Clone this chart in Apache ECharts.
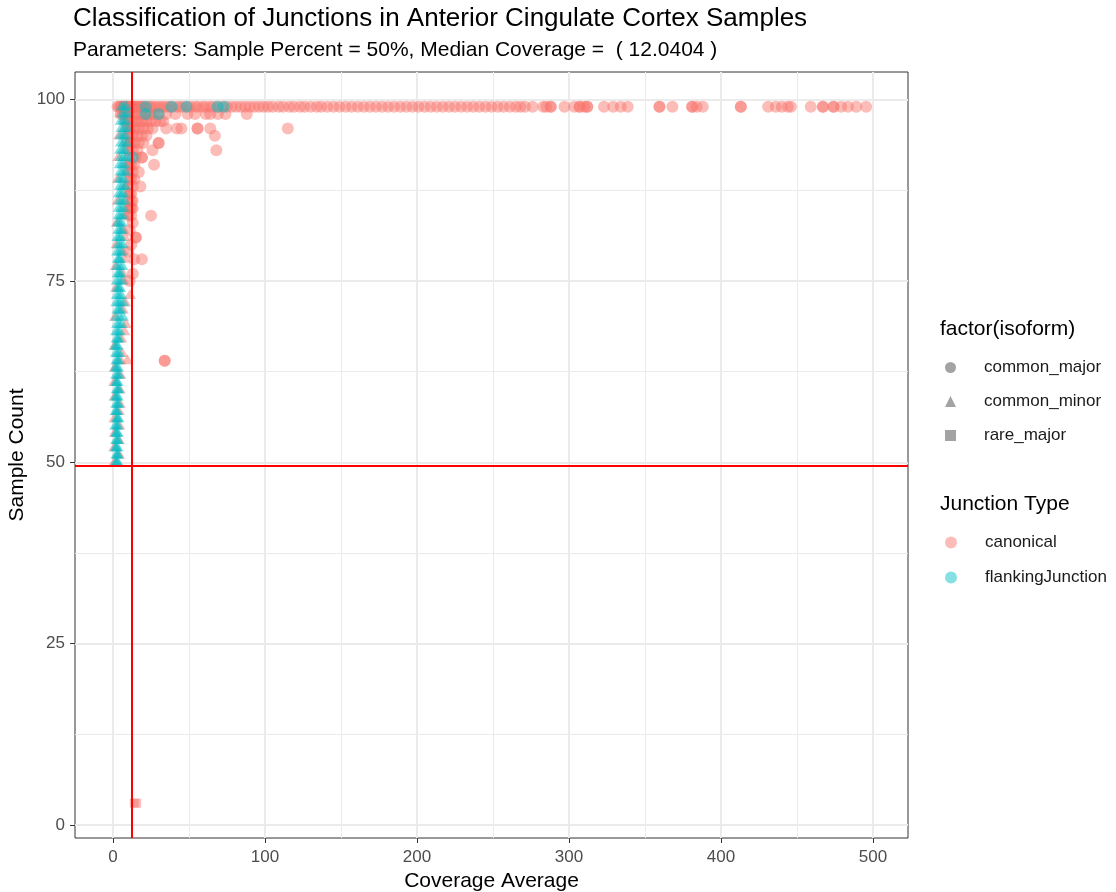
<!DOCTYPE html>
<html><head><meta charset="utf-8">
<script src="https://cdn.jsdelivr.net/npm/echarts@6/dist/echarts.min.js"></script>
<style>html,body{margin:0;padding:0;background:#fff}#chart{width:1116px;height:892px}</style>
</head><body><div id="chart"></div>
<script>
// ---- tick values ----
const xTicks = [0, 100, 200, 300, 400, 500];
const xMinorTicks = [50, 150, 250, 350, 450];
const yTicks = [0, 25, 50, 75, 100];
const yMinorTicks = [12.5, 37.5, 62.5, 87.5];
const medianCoverage = 12.0404;
const sampleThreshold = 49.5;

// ---- data: [coverage average, sample count] ----
const canonicalMajor = [
  [3,99],[4,99],[5,99],[6,99],[7,99],[8,99],[9,99],[10,99],[11,99],[12,99],[13,99],[14,99],[15,99],[16,99],[17,99],[18,99],[19,99],[20,99],
  [22,99],[24,99],[25,99],[27,99],[29,99],[31,99],[33,99],[35,99],[37,99],[39,99],[42,99],[44,99],[46,99],[49,99],[51,99],[54,99],[56,99],
  [59,99],[61,99],[64,99],[66,99],[69,99],[72,99],[75,99],[78,99],[81,99],[84,99],[87,99],[90,99],[93,99],[96,99],[99,99],[102,99],[105,99],
  [109,99],[112,99],[116,99],[119,99],[123,99],[126,99],[130,99],[134,99],[137,99],[141,99],[145,99],[149,99],[153,99],[157,99],[161,99],
  [165,99],[169,99],[173,99],[177,99],[181,99],[185,99],[189,99],[193,99],[197,99],[201,99],[205,99],[209,99],[213,99],[217,99],[221,99],
  [225,99],[229,99],[233,99],[237,99],[241,99],[245,99],[249,99],[253,99],[257,99],[261,99],[265,99],[268,99],
  [271,99],[276,99],[283,99],[285,99],[288,99],[288,99],[297,99],[303.5,99],[307,99],[307,99],[310,99],[312,99],[312,99],[323,99],[329,99],
  [334,99],[338.6,99],[359.5,99],[359.5,99],[368,99],[381,99],[381,99],[384,99],[388,99],[413,99],[413,99],[431,99],[436,99],[440,99],
  [444,99],[446,99],[459,99],[467,99],[467,99],[474,99],[474,99],[479,99],[483.5,99],[489,99],[495.5,99],
  [5,98],[7,98],[9,98],[11,98],[13,98],[15,98],[17,98],[19,98],[21,98],[23,98],[25,98],[27,98],[30,98],[35,98],[41,98],[49,98],[54,98],
  [61,98],[64,98],[69,98],[74,98],[88,98],
  [8,97],[10,97],[12,97],[14,97],[16,97],[18,97],[20,97],[22,97],[25,97],[28,97],[31,97],[33,97],
  [9,96],[11,96],[13,96],[15,96],[17,96],[20,96],[23,96],[26,96],[35,96],[42,96],[45,96],[55.6,96],[55.6,96],[64,96],[115,96],
  [10,95],[11,95],[13,95],[16,95],[19,95],[22,95],[67,95],
  [9,94],[12,94],[14,94],[17,94],[20,94],[30,94],[30,94],
  [10,93],[13,93],[16,93],[26,93],[68,93],
  [11,92],[15,92],[19,92],[19,92],
  [11,91],[12,91],[14,91],[27,91],
  [10,90],[13,90],[17,90],
  [11,89],[12,89],[14,89],
  [10,88],[13,88],[18,88],
  [11,87],[12,87],[10,86],[12,86],[13,86],[11,85],[12,85],[13,85],[10,84],[12,84],[25,84],[13,83],[11,82],
  [15,81],[15,81],[12,80],[10,79],[14,78],[19,78],[13,76],[11,75],
  [34,64],[34,64]
];
const canonicalMinor = [
  [1.0,50],[4.0,51],[0.8,52],[3.8,53],[1.1,54],[4.2,55],[0.9,56],[3.9,57],[4.5,58],[1.0,59],[4.3,60],[0.7,61],[4.8,62],[1.2,63],
  [9.5,64],[5.0,64],[6.0,65],[1.0,66],[5.5,67],[7.5,68],[8.5,69],[1.3,70],[6.5,71],[8.0,72],[11.2,73],[2.0,74],[7.0,75],[6.5,76],
  [1.8,77],[7.5,78],[6.8,79],[2.2,80],[7.8,81],[7.0,82],[2.5,83],[8.2,84],[9.0,85],[3.0,86],[9.5,87],[8.5,88],[3.2,89],[10.0,90],
  [9.0,91],[3.5,92],[10.5,93],[9.8,94],[4.0,95],[11.0,96],[10.0,97],[4.5,98],[9.0,99]
];
const canonicalRare = [[14,3],[15.5,3]];
const flankingMajor = [[21.5,99],[38.6,99],[48.3,99],[68.7,99],[73.1,99],[21.5,98],[30,98],[13,92]];
const flankingMinor = [
  [1.8,50],[2.6,50],[3.0,50],[2.2,51],[2.8,51],[3.4,51],[1.6,52],[2.4,52],[2.9,52],[2.0,53],[2.7,53],[3.5,53],[1.9,54],[2.6,54],[3.1,54],
  [1.5,55],[2.4,55],[3.3,55],[2.3,56],[3.0,56],[3.6,56],[1.7,57],[2.4,57],[2.8,57],[2.1,58],[2.9,58],[3.7,58],[1.6,59],[2.5,59],[3.2,59],
  [2.4,60],[3.1,60],[3.9,60],[1.8,61],[2.6,61],[3.0,61],[2.0,62],[3.0,62],[4.1,62],[1.5,63],[2.5,63],[3.4,63],[2.2,64],[3.0,64],[3.8,64],
  [1.9,65],[3.0,65],[4.2,65],[1.4,66],[2.4,66],[3.1,66],[2.3,67],[3.1,67],[4.0,67],
  [2.0,68],[3.3,68],[4.6,68],[2.6,69],[4.1,69],[5.8,69],[2.1,70],[4.4,70],[6.6,70],[2.8,71],[4.0,71],[5.2,71],[2.2,72],[3.6,72],[4.9,72],
  [6.8,72],[2.5,73],[4.0,73],[5.5,73],[2.9,74],[3.8,74],[4.7,74],[2.4,75],[4.1,75],[5.9,75],[3.0,76],[4.1,76],[5.1,76],[2.6,77],[4.3,77],
  [6.2,77],[3.2,78],[4.0,78],[4.8,78],[2.7,79],[4.2,79],[5.6,79],[3.3,80],[4.8,80],[6.4,80],[2.9,81],[4.1,81],[5.3,81],[3.5,82],[4.7,82],
  [6.0,82],[3.1,83],[4.4,83],[5.7,83],[3.6,84],[5.0,84],[6.5,84],
  [3.8,85],[5.4,85],[6.9,85],[4.2,86],[5.8,86],[7.6,86],[3.9,87],[5.3,87],[6.8,87],[4.5,88],[6.2,88],[8.0,88],[4.1,89],[5.6,89],
  [7.2,89],[4.8,90],[6.5,90],[8.4,90],[4.4,91],[6.0,91],[7.5,91],[5.0,92],[6.9,92],[8.8,92],[4.6,93],[6.3,93],[7.9,93],[5.2,94],
  [7.1,94],[9.2,94],[4.9,95],[6.6,95],[8.3,95],[5.5,96],[7.4,96],[9.6,96],[5.1,97],[6.9,97],[8.7,97],[6.0,98],[7.8,98],[9.9,98],
  [5.6,99],[7.2,99],[8.9,99]
];

// ---- styles ----
const RED = 'rgba(248,118,109,0.6)';
const CYAN = 'rgba(0,191,196,0.6)';
const GREY = '#8c8c8c';
const FONT = 'Liberation Sans';
const majorGrid = {show: true, lineStyle: {color: '#ebebeb', width: 2}};
const minorGrid = {show: true, lineStyle: {color: '#ebebeb', width: 1}};

function pts(name, data, symbol, size, color, offset) {
  return {
    name: name, type: 'scatter', data: data, symbol: symbol, symbolSize: size,
    symbolOffset: offset || [0, 0],
    itemStyle: {color: color}, emphasis: {disabled: true}, silent: true, z: 2
  };
}

const series = [
  pts('canonical_major', canonicalMajor, 'circle', 12, RED),
  pts('canonical_rare', canonicalRare, 'rect', 9, RED),
  pts('canonical_minor', canonicalMinor, 'triangle', [12, 10], RED, [0, -1.5]),
  pts('flanking_major', flankingMajor, 'circle', 12, CYAN),
  Object.assign(pts('flanking_minor', flankingMinor, 'triangle', [12, 10], CYAN, [0, -1.5]), {
    markLine: {
      silent: true, symbol: 'none', animation: false,
      label: {show: false},
      lineStyle: {color: '#ff0000', width: 2, type: 'solid'},
      data: [{xAxis: medianCoverage}, {yAxis: sampleThreshold}]
    }
  }),
  // legend-only series
  {name: 'common_major', type: 'scatter', data: [], symbol: 'circle', itemStyle: {color: GREY}},
  {name: 'common_minor', type: 'scatter', data: [], symbol: 'triangle', itemStyle: {color: GREY}},
  {name: 'rare_major', type: 'scatter', data: [], symbol: 'rect', itemStyle: {color: GREY}},
  {name: 'canonical', type: 'scatter', data: [], symbol: 'circle', itemStyle: {color: RED}},
  {name: 'flankingJunction', type: 'scatter', data: [], symbol: 'circle', itemStyle: {color: CYAN}}
];

const tickLabel = {fontSize: 17, color: '#4d4d4d', fontFamily: FONT};
const legendText = {fontSize: 17, color: '#1a1a1a', fontFamily: FONT, padding: [0, 0, 0, 23]};
const option = {
  animation: false,
  textStyle: {fontFamily: FONT},
  title: [
    {text: 'Classification of Junctions in Anterior Cingulate Cortex Samples', left: 73, top: 6, padding: 0,
     textStyle: {fontSize: 26, fontWeight: 'normal', color: '#000', fontFamily: FONT}},
    {text: 'Parameters: Sample Percent = 50%, Median Coverage =  ( 12.0404 )', left: 73, top: 40, padding: 0,
     textStyle: {fontSize: 21, fontWeight: 'normal', color: '#000', fontFamily: FONT}},
    {text: 'factor(isoform)', left: 940, top: 319, padding: 0,
     textStyle: {fontSize: 21, fontWeight: 'normal', color: '#000', fontFamily: FONT}},
    {text: 'Junction Type', left: 940, top: 494, padding: 0,
     textStyle: {fontSize: 21, fontWeight: 'normal', color: '#000', fontFamily: FONT}}
  ],
  legend: [
    {data: [{name: 'common_major', icon: 'circle'}, {name: 'common_minor', icon: 'triangle'}, {name: 'rare_major', icon: 'rect'}],
     orient: 'vertical', left: 945, top: 359, padding: 0, itemWidth: 11, itemHeight: 11, itemGap: 17,
     selectedMode: false, textStyle: legendText},
    {data: [{name: 'canonical', icon: 'circle'}, {name: 'flankingJunction', icon: 'circle'}],
     orient: 'vertical', left: 945, top: 534, padding: 0, itemWidth: 12, itemHeight: 12, itemGap: 18,
     selectedMode: false, textStyle: legendText}
  ],
  grid: {left: 75, top: 72, width: 833, height: 766, show: true, borderColor: '#333333', borderWidth: 1,
         backgroundColor: '#fff', containLabel: false, outerBoundsMode: 'none'},
  xAxis: [
    {type: 'value', min: -25, max: 523, position: 'bottom',
     name: 'Coverage Average', nameLocation: 'middle', nameGap: 33, nameMoveOverlap: false,
     nameTextStyle: {fontSize: 21, color: '#000', fontFamily: FONT},
     axisLine: {show: false, onZero: false},
     axisTick: {show: true, length: 5, customValues: xTicks, lineStyle: {color: '#333333', width: 1}},
     axisLabel: Object.assign({margin: 11, customValues: xTicks}, tickLabel),
     splitLine: majorGrid},
    {type: 'value', min: -25, max: 523, position: 'bottom',
     axisLine: {show: false, onZero: false}, axisLabel: {show: false},
     axisTick: {show: false, customValues: xMinorTicks},
     splitLine: minorGrid}
  ],
  yAxis: [
    {type: 'value', min: -1.8, max: 103.8, position: 'left',
     name: 'Sample Count', nameLocation: 'middle', nameGap: 47, nameMoveOverlap: false,
     nameTextStyle: {fontSize: 21, color: '#000', fontFamily: FONT},
     axisLine: {show: false, onZero: false},
     axisTick: {show: true, length: 5, customValues: yTicks, lineStyle: {color: '#333333', width: 1}},
     axisLabel: Object.assign({margin: 10, customValues: yTicks}, tickLabel),
     splitLine: majorGrid},
    {type: 'value', min: -1.8, max: 103.8, position: 'left',
     axisLine: {show: false, onZero: false}, axisLabel: {show: false},
     axisTick: {show: false, customValues: yMinorTicks},
     splitLine: minorGrid}
  ],
  series: series
};
const chart = echarts.init(document.getElementById('chart'), null, {renderer: 'canvas'});
chart.setOption(option);
</script>
</body></html>
